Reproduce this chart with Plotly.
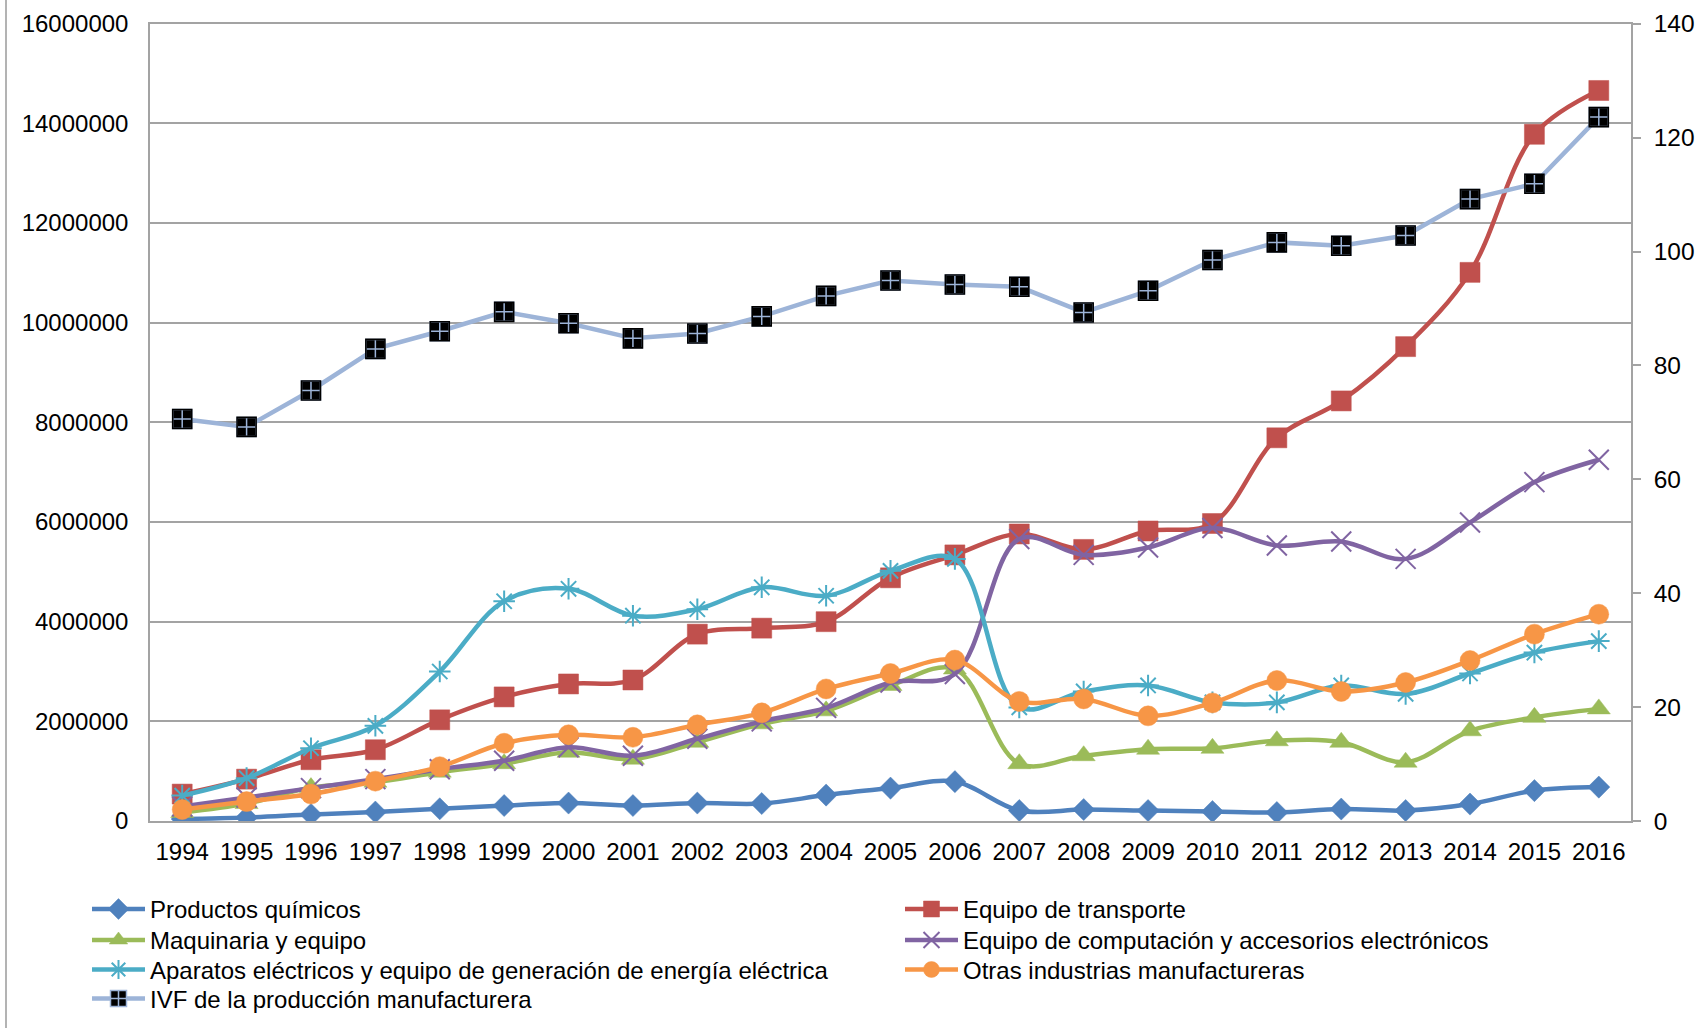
import plotly.graph_objects as go

# ---- data -------------------------------------------------------------
years = ["1994", "1995", "1996", "1997", "1998", "1999", "2000", "2001",
         "2002", "2003", "2004", "2005", "2006", "2007", "2008", "2009",
         "2010", "2011", "2012", "2013", "2014", "2015", "2016"]

productos_quimicos = [40000, 70000, 130000, 180000, 245000, 310000, 360000,
                      310000, 360000, 350000, 520000, 660000, 790000, 210000,
                      230000, 210000, 190000, 170000, 240000, 210000, 340000,
                      610000, 680000]

equipo_transporte = [540000, 840000, 1230000, 1430000, 2030000, 2490000,
                     2750000, 2830000, 3750000, 3870000, 4000000, 4880000,
                     5340000, 5760000, 5450000, 5820000, 5970000, 7690000,
                     8430000, 9520000, 11010000, 13780000, 14660000]

maquinaria_equipo = [170000, 350000, 670000, 780000, 980000, 1150000,
                     1380000, 1240000, 1580000, 1950000, 2210000, 2720000,
                     3050000, 1150000, 1310000, 1440000, 1460000, 1610000,
                     1580000, 1180000, 1810000, 2080000, 2250000]

equipo_computacion = [290000, 470000, 660000, 840000, 1040000, 1210000,
                      1480000, 1310000, 1650000, 2000000, 2270000, 2780000,
                      2950000, 5660000, 5340000, 5490000, 5880000, 5530000,
                      5610000, 5260000, 5990000, 6800000, 7250000]

aparatos_electricos = [510000, 860000, 1460000, 1910000, 3000000, 4410000,
                       4660000, 4120000, 4250000, 4690000, 4520000, 5020000,
                       5260000, 2280000, 2600000, 2720000, 2380000, 2380000,
                       2720000, 2550000, 2960000, 3380000, 3610000]

otras_industrias = [230000, 390000, 540000, 800000, 1090000, 1560000,
                    1730000, 1680000, 1930000, 2170000, 2650000, 2960000,
                    3230000, 2400000, 2450000, 2110000, 2370000, 2820000,
                    2600000, 2780000, 3220000, 3750000, 4150000]

ivf_manufacturera = [70.6, 69.2, 75.6, 82.9, 86.0, 89.4, 87.4, 84.75, 85.6,
                     88.6, 92.2, 94.9, 94.2, 93.8, 89.3, 93.1, 98.5, 101.6,
                     101.0, 102.8, 109.2, 111.9, 123.6]

left_ticks = [0, 2000000, 4000000, 6000000, 8000000, 10000000, 12000000,
              14000000, 16000000]
right_ticks = [0, 20, 40, 60, 80, 100, 120, 140]

# ---- styling ------------------------------------------------------------
FONT = "Liberation Sans, Arial, sans-serif"
GRID = "#A3A3A3"
W, H = 1702, 1028
LINE_W = 4.5

# legend laid out as two columns, one small legend per row
ROW_Y = [909, 940, 969.5, 998.5]     # pixel centre of each legend row
LEG_X = 87                           # pixel start of the first column
ITEM_OFFSET = 22.1                   # legend top -> first item centre

fig = go.Figure()


def add_series(name, values, color, symbol, size, legend, second_col=False,
               open_marker=False):
    if open_marker:
        marker = dict(symbol=symbol, size=size, color=color,
                      line=dict(color=color, width=2))
    else:
        marker = dict(symbol=symbol, size=size, color=color,
                      line=dict(color=color, width=0.5))
    fig.add_trace(go.Scatter(
        x=years, y=values, name=name, mode="lines+markers",
        line=dict(color=color, width=LINE_W, shape="spline", smoothing=1.0),
        marker=marker, yaxis="y", hoverinfo="skip", legend=legend,
        legendwidth=600 if second_col else None))


add_series("Productos químicos", productos_quimicos, "#4F81BD", "diamond", 17,
           "legend")
add_series("Equipo de transporte", equipo_transporte, "#C0504D", "square", 20,
           "legend", second_col=True)
add_series("Maquinaria y equipo", maquinaria_equipo, "#9BBB59", "triangle-up",
           20, "legend2")
add_series("Equipo de computación y accesorios electrónicos", equipo_computacion,
           "#8064A2", "x-thin-open", 20, "legend2", second_col=True,
           open_marker=True)
add_series("Aparatos eléctricos y equipo de generación de energía eléctrica",
           aparatos_electricos, "#4BACC6", "asterisk-open", 18, "legend3",
           open_marker=True)
add_series("Otras industrias manufactureras", otras_industrias, "#F79646",
           "circle", 20, "legend3", second_col=True)

# index series on the secondary axis: black square with a light cross
IVF_COLOR = "#9DB4D8"
fig.add_trace(go.Scatter(
    x=years, y=ivf_manufacturera, name="IVF de la producción manufacturera",
    mode="lines+markers", yaxis="y2", hoverinfo="skip", legend="legend4",
    line=dict(color=IVF_COLOR, width=LINE_W),
    marker=dict(symbol="square-cross", size=19, color="#000000",
                line=dict(color=IVF_COLOR, width=1.5))))
fig.add_trace(go.Scatter(
    x=years, y=ivf_manufacturera, mode="markers", yaxis="y2",
    showlegend=False, hoverinfo="skip",
    marker=dict(symbol="square-open", size=19, color="#000000",
                line=dict(color="#000000", width=1.6))))

x0, x1 = 150 / W, 1631 / W
y0, y1 = 1 - 821 / H, 1 - 23.7 / H


def legend_box(row):
    return dict(
        orientation="h", x=LEG_X / W, xanchor="left",
        y=1 - (ROW_Y[row] - ITEM_OFFSET) / H, yanchor="top",
        font=dict(size=24, family=FONT, color="#000"),
        itemwidth=53, entrywidth=745, entrywidthmode="pixels",
        bgcolor="rgba(0,0,0,0)", borderwidth=0, traceorder="normal",
    )


fig.update_layout(
    width=W, height=H,
    margin=dict(l=0, r=0, t=0, b=0, autoexpand=False),
    paper_bgcolor="white", plot_bgcolor="white",
    font=dict(family=FONT, size=24, color="#000000"),
    showlegend=True,
    xaxis=dict(
        type="category", domain=[x0, x1], range=[-0.5, 22.5],
        showgrid=False, zeroline=False,
        showline=True, linecolor=GRID, linewidth=1.5, mirror=True,
        ticks="", tickfont=dict(size=24, family=FONT, color="#000"),
        ticklabelstandoff=8,
    ),
    yaxis=dict(
        domain=[y0, y1], range=[0, 16000000],
        tickvals=left_ticks, tickformat="d",
        showgrid=True, gridcolor=GRID, gridwidth=1.5,
        zeroline=False, showline=True, linecolor=GRID, linewidth=1.5,
        ticks="", tickfont=dict(size=24, family=FONT, color="#000"),
        ticklabelstandoff=15,
    ),
    yaxis2=dict(
        overlaying="y", side="right", range=[0, 140],
        tickvals=right_ticks, showgrid=False, zeroline=False,
        showline=True, linecolor=GRID, linewidth=1.5,
        ticks="outside", ticklen=8, tickcolor=GRID, tickwidth=1.5,
        tickfont=dict(size=24.5, family=FONT, color="#000"),
        ticklabelstandoff=8,
    ),
    legend=legend_box(0),
    legend2=legend_box(1),
    legend3=legend_box(2),
    legend4=legend_box(3),
    shapes=[dict(type="line", xref="paper", yref="paper",
                 x0=6 / W, x1=6 / W, y0=0, y1=1,
                 line=dict(color="#B3B3B3", width=2))],
)

fig.write_html("out.html", config={"displayModeBar": False})
